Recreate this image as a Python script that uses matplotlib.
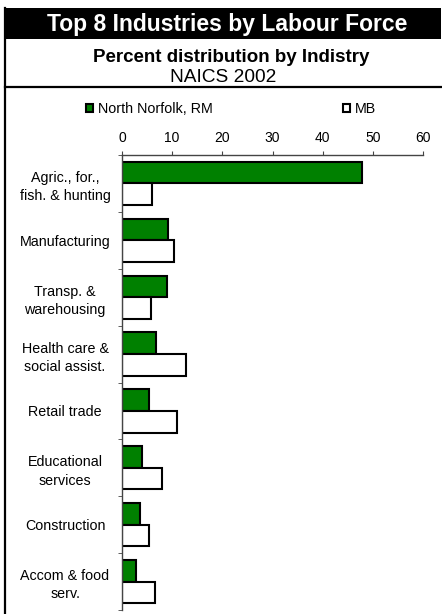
import numpy as np
import matplotlib
matplotlib.use("Agg")
import matplotlib.pyplot as plt
from matplotlib.patches import Rectangle
from matplotlib.lines import Line2D

plt.rcParams['font.family'] = ['Liberation Sans', 'DejaVu Sans']

# data (percent of labour force)
industries = ["Agric., for.,\nfish. & hunting", "Manufacturing", "Transp. &\nwarehousing",
              "Health care &\nsocial assist.", "Retail trade", "Educational\nservices",
              "Construction", "Accom & food\nserv."]
north_norfolk = [47.9, 9.2, 8.9, 6.7, 5.3, 3.9, 3.5, 2.8]
mb = [6.0, 10.4, 5.7, 12.7, 10.9, 7.9, 5.4, 6.6]
xticks = [0, 10, 20, 30, 40, 50, 60]

W, H = 442, 614
fig = plt.figure(figsize=(W / 100, H / 100), dpi=100)

def fx(px):
    return px / W

def fy(py):
    return 1 - py / H

# frame: black title band, left border, separator line
fig.patches.append(Rectangle((fx(5), fy(39)), fx(436), 31 / H, transform=fig.transFigure,
                             facecolor="black", edgecolor="none"))
fig.lines.append(Line2D([fx(5), fx(5)], [fy(8), 0], transform=fig.transFigure, color="black", lw=1.6))
fig.lines.append(Line2D([fx(5), 1], [fy(87), fy(87)], transform=fig.transFigure, color="black", lw=1.6))

fig.text(fx(227), fy(24), "Top 8 Industries by Labour Force", color="white", fontsize=16.5,
         fontweight="bold", ha="center", va="center")
fig.text(fx(231), fy(58), "Percent distribution by Indistry", fontsize=13.5,
         fontweight="bold", ha="center", va="center")
fig.text(fx(223), fy(78), "NAICS 2002", fontsize=13.8, ha="center", va="center")

ax = fig.add_axes([fx(122), fy(610), fx(423) - fx(122), (610 - 155) / H])
y = np.arange(len(industries))
h = 0.38
b1 = ax.barh(y - h / 2, north_norfolk, height=h, color="#008000", edgecolor="black", lw=1.5,
             label="North Norfolk, RM")
b2 = ax.barh(y + h / 2, mb, height=h, color="white", edgecolor="black", lw=1.5, label="MB")

ax.set_xlim(0, 60)
ax.set_ylim(len(industries) - 0.5, -0.5)
ax.xaxis.tick_top()
ax.set_xticks(xticks)
ax.tick_params(axis="x", direction="out", length=3, color="#444444", labelsize=10, pad=4)
ax.set_yticks(y)
ax.set_yticklabels(industries, ha="center", fontsize=10.3, linespacing=1.4)
ax.set_yticks(np.arange(len(industries) + 1) - 0.5, minor=True)
ax.tick_params(axis="y", which="major", length=0, pad=41)
ax.tick_params(axis="y", which="minor", length=3, color="#444444")
for s in ["right", "bottom"]:
    ax.spines[s].set_visible(False)
for s in ["top", "left"]:
    ax.spines[s].set_color("#444444")
    ax.spines[s].set_linewidth(1.0)

fig.legend(handles=[b1], loc="center left", bbox_to_anchor=(fx(79), fy(109)), frameon=False,
           fontsize=10.3, handlelength=0.5, handleheight=0.5, handletextpad=0.3, borderpad=0)
fig.legend(handles=[b2], loc="center left", bbox_to_anchor=(fx(336), fy(109)), frameon=False,
           fontsize=10.3, handlelength=0.5, handleheight=0.5, handletextpad=0.3, borderpad=0)

fig.savefig("out.png", dpi=100)
